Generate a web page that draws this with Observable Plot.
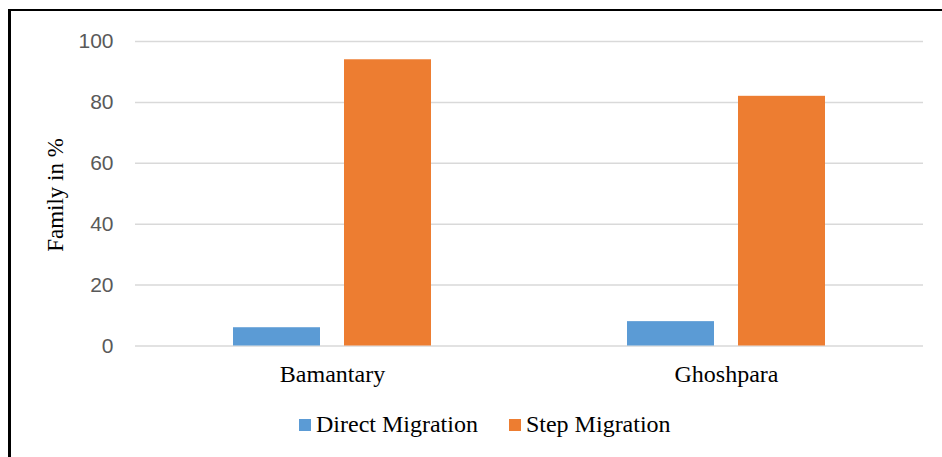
<!DOCTYPE html>
<html>
<head>
<meta charset="utf-8">
<script src="https://cdn.jsdelivr.net/npm/d3@7"></script>
<script src="https://cdn.jsdelivr.net/npm/@observablehq/plot@0.6"></script>
<style>
  html, body { margin: 0; padding: 0; background: #fff; }
  #chart { position: relative; width: 942px; height: 457px; overflow: hidden; }
  #frame {
    position: absolute; left: 8px; top: 9px; width: 1000px; height: 1000px;
    border-left: 3px solid #000; border-top: 2px solid #000; box-sizing: border-box;
  }
  #plot { position: absolute; left: 0; top: 0; }
  #legend {
    position: absolute; left: 299px; top: 411px; display: flex; align-items: center;
    font-family: "Liberation Serif", "Times New Roman", serif; font-size: 24px; color: #000;
  }
  .item { display: flex; align-items: center; margin-right: 31px; }
  .swatch { width: 12px; height: 12px; margin-right: 5px; }
</style>
</head>
<body>
<div id="chart">
  <div id="frame"></div>
  <div id="plot"></div>
  <div id="legend"></div>
</div>
<script>
// Share of migrant families by migration type in each locality
const places = ["Bamantary", "Ghoshpara"];
const types = ["Direct Migration", "Step Migration"];
const direct = [6, 8];
const step = [94, 82];
const yTicks = [0, 20, 40, 60, 80, 100];
const colors = ["#5B9BD5", "#ED7D31"];

const rows = places.flatMap((p, i) => [
  {place: p, type: types[0], value: direct[i]},
  {place: p, type: types[1], value: step[i]}
]);

const chart = Plot.plot({
  width: 942,
  height: 400,
  marginLeft: 135,
  marginRight: 19,
  marginTop: 41,
  marginBottom: 54.5,
  style: {background: "transparent", fontFamily: "'Liberation Sans', Arial, sans-serif"},
  fx: {domain: places, padding: 0, label: null},
  x: {domain: types, paddingInner: 0.214, paddingOuter: 0.866, axis: null},
  y: {domain: [0, 100]},
  color: {domain: types, range: colors},
  marks: [
    Plot.gridY(yTicks, {stroke: "#d9d9d9", strokeOpacity: 1, strokeWidth: 1.5}),
    Plot.barY(rows, {fx: "place", x: "type", y: "value", fill: "type"}),
    Plot.axisY(yTicks, {
      tickSize: 0, tickPadding: 22, fontSize: 21, fill: "#595959", label: null
    }),
    Plot.axisFx({
      anchor: "bottom", tickSize: 0, tickPadding: 19, fontSize: 24,
      fontFamily: "'Liberation Serif', 'Times New Roman', serif", fill: "#000", label: null
    })
  ]
});

// Rotated y-axis title
d3.select(chart).append("text")
  .attr("transform", "translate(63,195) rotate(-90)")
  .attr("text-anchor", "middle")
  .attr("font-family", "'Liberation Serif', 'Times New Roman', serif")
  .attr("font-size", 23)
  .attr("fill", "#000")
  .text("Family in %");

document.getElementById("plot").appendChild(chart);

// Legend below the plot
const legend = d3.select("#legend");
types.forEach((t, i) => {
  const item = legend.append("div").attr("class", "item");
  item.append("div").attr("class", "swatch").style("background", colors[i]);
  item.append("span").text(t);
});
</script>
</body>
</html>
